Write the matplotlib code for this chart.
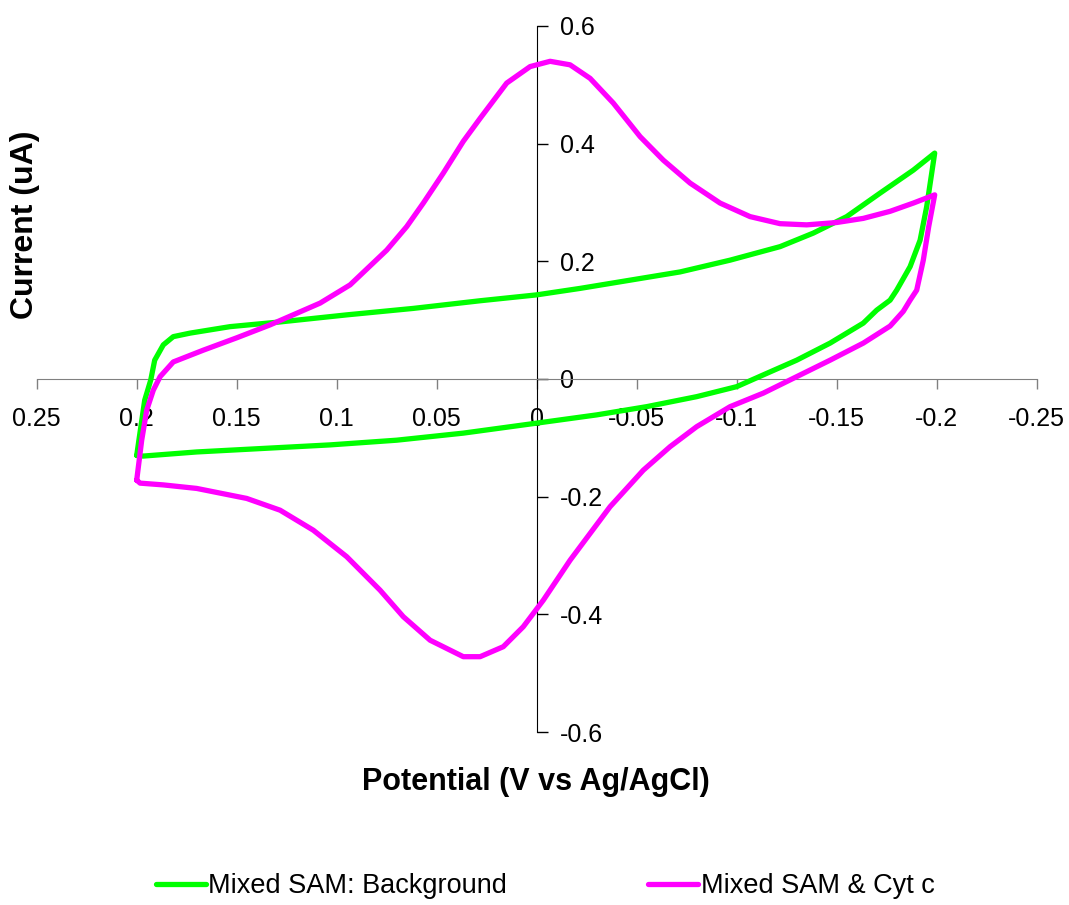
import matplotlib.pyplot as plt
from matplotlib.ticker import FixedLocator, FormatStrFormatter

plt.rcParams['font.family'] = ['Liberation Sans', 'DejaVu Sans']

# Mixed SAM background scan (closed loop, starts at +0.2 V bottom corner)
bg_potential = [0.200, 0.196, 0.193, 0.191, 0.1867, 0.1817, 0.1733, 0.1533, 0.1283,
                0.095, 0.0617, 0.0283, 0.0, -0.0217, -0.0467, -0.0717, -0.0967,
                -0.1217, -0.1383, -0.155, -0.1717, -0.1883, -0.199,
                -0.195, -0.1917, -0.1867, -0.180, -0.1767, -0.170, -0.1633, -0.1467,
                -0.130, -0.1133, -0.100, -0.080, -0.055, -0.030, 0.0, 0.0367, 0.070,
                0.1033, 0.1367, 0.170, 0.1967, 0.200]
bg_current = [-0.130, -0.036, -0.002, 0.032, 0.058, 0.072, 0.078, 0.089, 0.097,
              0.109, 0.120, 0.133, 0.143, 0.154, 0.168, 0.182, 0.202,
              0.225, 0.248, 0.276, 0.316, 0.355, 0.384,
              0.293, 0.236, 0.191, 0.151, 0.134, 0.117, 0.095, 0.061,
              0.032, 0.007, -0.013, -0.030, -0.047, -0.061, -0.075, -0.092, -0.104,
              -0.112, -0.118, -0.124, -0.131, -0.130]

# Mixed SAM with cytochrome c
cyt_potential = [0.200, 0.1975, 0.195, 0.1917, 0.1883, 0.1817, 0.1667, 0.150, 0.1333,
                 0.1083, 0.0933, 0.075, 0.065, 0.0567, 0.0467, 0.0367, 0.0283, 0.015,
                 0.0033, -0.0067, -0.0167, -0.0267, -0.0383, -0.0517, -0.0633, -0.0767,
                 -0.0917, -0.1067, -0.1217, -0.135, -0.150, -0.1633, -0.1767, -0.1883,
                 -0.199,
                 -0.196, -0.1933, -0.190, -0.1867, -0.1833, -0.1767, -0.1633, -0.1467,
                 -0.130, -0.1133, -0.0967, -0.080, -0.0667, -0.0533, -0.0367, -0.0167,
                 -0.0033, 0.0067, 0.0167, 0.0283, 0.0367, 0.0533, 0.0667, 0.0783,
                 0.095, 0.1117, 0.1283, 0.145, 0.170, 0.1867, 0.1983, 0.200]
cyt_current = [-0.172, -0.104, -0.053, -0.019, 0.004, 0.029, 0.049, 0.070, 0.092,
               0.129, 0.160, 0.219, 0.259, 0.299, 0.350, 0.404, 0.443, 0.503,
               0.531, 0.540, 0.534, 0.511, 0.469, 0.412, 0.372, 0.333,
               0.299, 0.276, 0.264, 0.262, 0.266, 0.273, 0.285, 0.299,
               0.313,
               0.259, 0.202, 0.151, 0.134, 0.115, 0.090, 0.061, 0.032,
               0.004, -0.024, -0.047, -0.081, -0.115, -0.155, -0.217, -0.308,
               -0.376, -0.421, -0.455, -0.472, -0.472, -0.444, -0.404, -0.359,
               -0.302, -0.257, -0.223, -0.203, -0.186, -0.180, -0.177, -0.172]

x_ticks = [0.25, 0.2, 0.15, 0.1, 0.05, 0, -0.05, -0.1, -0.15, -0.2, -0.25]
y_ticks = [-0.6, -0.4, -0.2, 0, 0.2, 0.4, 0.6]

fig = plt.figure(figsize=(10.69, 9.05), dpi=100)
ax = fig.add_axes([36.7 / 1069, 1 - 732 / 905, 1000 / 1069, 706 / 905])

ax.plot(bg_potential, bg_current, color='#00ff00', lw=3.8, zorder=3,
        solid_joinstyle='round', solid_capstyle='round', label='Mixed SAM: Background')
ax.plot(cyt_potential, cyt_current, color='#ff00ff', lw=3.8, zorder=3,
        solid_joinstyle='round', solid_capstyle='round', label='Mixed SAM & Cyt c')

ax.set_xlim(0.25, -0.25)
ax.set_ylim(-0.6, 0.6)

# axes cross at the origin, y labels sit to the right of the vertical axis
ax.spines['top'].set_visible(False)
ax.spines['left'].set_visible(False)
ax.spines['right'].set_position(('data', 0))
ax.spines['right'].set_color('black')
ax.spines['bottom'].set_position(('data', 0))
ax.spines['bottom'].set_color('#808080')
ax.yaxis.tick_right()

ax.xaxis.set_major_locator(FixedLocator(x_ticks))
ax.yaxis.set_major_locator(FixedLocator(y_ticks))
ax.xaxis.set_major_formatter(FormatStrFormatter('%g'))
ax.yaxis.set_major_formatter(FormatStrFormatter('%g'))
ax.tick_params(axis='x', direction='out', length=7, width=1, color='#808080',
               labelsize=18, pad=13)
ax.tick_params(axis='y', direction='out', length=8, width=1, color='black',
               labelsize=18, pad=9)

fig.text(536 / 1069, 1 - 782 / 905, 'Potential (V vs Ag/AgCl)', ha='center', va='center',
         fontsize=22, fontweight='bold')
fig.text(25 / 1069, 1 - 225 / 905, 'Current (uA)', ha='center', va='center',
         rotation=90, fontsize=23, fontweight='bold')

fig.legend(loc='center', bbox_to_anchor=(0.51, 1 - 886 / 905), ncol=2, frameon=False,
           fontsize=19.5, handlelength=1.85, handletextpad=0.1, columnspacing=5.2)

fig.savefig('out.png', dpi=100)
